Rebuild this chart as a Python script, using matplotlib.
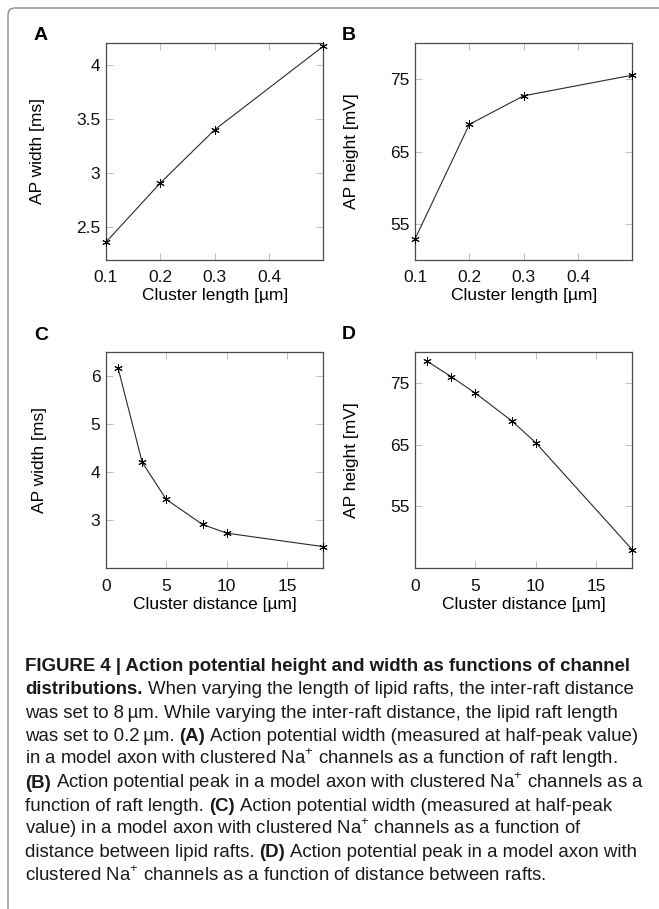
import matplotlib
matplotlib.use("Agg")
import matplotlib.pyplot as plt
from matplotlib.patches import FancyBboxPatch

# panel data
cluster_length = [0.1, 0.2, 0.3, 0.5]
ap_width_len = [2.365, 2.91, 3.40, 4.17]
ap_height_len = [52.9, 68.75, 72.7, 75.55]

cluster_dist = [1, 3, 5, 8, 10, 18]
ap_width_dist = [6.16, 4.20, 3.43, 2.91, 2.73, 2.45]
ap_height_dist = [78.45, 75.97, 73.3, 68.85, 65.3, 48.0]

len_ticks = [0.1, 0.2, 0.3, 0.4]
len_ticklabels = ["0.1", "0.2", "0.3", "0.4"]
dist_ticks = [0, 5, 10, 15]
dist_ticklabels = ["0", "5", "10", "15"]
width_len_ticks = [2.5, 3, 3.5, 4]
width_len_ticklabels = ["2.5", "3", "3.5", "4"]
height_ticks = [55, 65, 75]
height_ticklabels = ["55", "65", "75"]
width_dist_ticks = [3, 4, 5, 6]
width_dist_ticklabels = ["3", "4", "5", "6"]

caption_lines = [
    [("FIGURE 4 | Action potential height and width as functions of channel", True)],
    [("distributions.", True), ("When varying the length of lipid rafts, the inter-raft distance", False)],
    [("was set to 8\u2009\u00b5m. While varying the inter-raft distance, the lipid raft length", False)],
    [("was set to 0.2\u2009\u00b5m.", False), ("(A)", True),
     ("Action potential width (measured at half-peak value)", False)],
    [("in a model axon with clustered Na$^{+}$ channels as a function of raft length.", False)],
    [("(B)", True), ("Action potential peak in a model axon with clustered Na$^{+}$ channels as a", False)],
    [("function of raft length.", False), ("(C)", True),
     ("Action potential width (measured at half-peak", False)],
    [("value) in a model axon with clustered Na$^{+}$ channels as a function of", False)],
    [("distance between lipid rafts.", False), ("(D)", True),
     ("Action potential peak in a model axon with", False)],
    [("clustered Na$^{+}$ channels as a function of distance between rafts.", False)],
]

W, H = 659, 909
plt.rcParams["font.family"] = "Liberation Sans"
plt.rcParams["mathtext.fontset"] = "custom"
plt.rcParams["mathtext.rm"] = "Liberation Sans"
fig = plt.figure(figsize=(W / 100, H / 100), dpi=100)

# rounded frame (right and bottom run off the page, as in the source)
frame = FancyBboxPatch((0.08, -0.3), 7.0, 9.31, boxstyle="round,pad=0,rounding_size=0.07",
                       transform=fig.dpi_scale_trans, fill=False, edgecolor="#8a8a8a", lw=1.0)
fig.add_artist(frame)


def px_axes(left, top, right, bottom):
    return fig.add_axes([left / W, 1 - bottom / H, (right - left) / W, (bottom - top) / H])


def style(ax, x, y, xlim, ylim, xt, xtl, yt, ytl, xlabel, ylabel, ylab_x):
    ax.plot(x, y, color="#2a2a2a", lw=0.8, marker=(6, 2, 0), ms=6, mec="black", mew=0.7,
            clip_on=False, zorder=3)
    ax.set_xlim(*xlim)
    ax.set_ylim(*ylim)
    ax.set_xticks(xt, xtl)
    ax.set_yticks(yt, ytl)
    ax.tick_params(direction="in", length=5, width=0.7, color="#bdbdbd", top=True, right=True,
                   labelsize=12.5, labelcolor="#111111")
    ax.tick_params(axis="x", pad=7.5)
    ax.tick_params(axis="y", pad=4)
    for s in ax.spines.values():
        s.set_color("#4a4a4a")
        s.set_linewidth(0.9)
    ax.set_xlabel(xlabel, fontsize=12.5, va="center")
    ax.set_ylabel(ylabel, fontsize=12.5, va="center")
    ax.xaxis.set_label_coords(0.5, -0.165)
    ax.yaxis.set_label_coords(ylab_x, 0.5)


ax_a = px_axes(106, 43, 323.3, 260)
style(ax_a, cluster_length, ap_width_len, (0.1, 0.5), (2.2, 4.2), len_ticks, len_ticklabels,
      width_len_ticks, width_len_ticklabels, "Cluster length [\u00b5m]", "AP width [ms]", -0.313)

ax_b = px_axes(415, 43, 632.3, 260)
style(ax_b, cluster_length, ap_height_len, (0.1, 0.5), (50, 80), len_ticks, len_ticklabels,
      height_ticks, height_ticklabels, "Cluster length [\u00b5m]", "AP height [mV]", -0.291)

ax_c = px_axes(106, 351.7, 323.3, 568.3)
style(ax_c, cluster_dist, ap_width_dist, (0, 18), (2, 6.5), dist_ticks, dist_ticklabels,
      width_dist_ticks, width_dist_ticklabels, "Cluster distance [\u00b5m]", "AP width [ms]", -0.307)

ax_d = px_axes(415, 351.7, 632.3, 568.3)
style(ax_d, cluster_dist, ap_height_dist, (0, 18), (45, 80), dist_ticks, dist_ticklabels,
      height_ticks, height_ticklabels, "Cluster distance [\u00b5m]", "AP height [mV]", -0.291)

for letter, x, y in [("A", 34, 40), ("B", 342, 40), ("C", 34, 340), ("D", 342, 339)]:
    fig.text(x / W, 1 - y / H, letter, fontsize=14, fontweight="bold", va="baseline")

# caption, sized so the first line spans the same width as in the source
renderer = fig.canvas.get_renderer()
probe = fig.text(0, 0, caption_lines[0][0][0], fontweight="bold", fontsize=10)
cap_size = 10 * 606 / probe.get_window_extent(renderer).width
probe.remove()


def text_w(s, bold):
    t = fig.text(0, 0, s, fontweight="bold" if bold else "normal", fontsize=cap_size)
    w = t.get_window_extent(renderer).width
    t.remove()
    return w


space = text_w("x x", False) - text_w("xx", False)

x0, y0, step = 25, 671, 23.3
for i, segs in enumerate(caption_lines):
    x = x0
    for s, bold in segs:
        t = fig.text(x / W, 1 - (y0 + i * step) / H, s,
                     fontweight="bold" if bold else "normal", fontsize=cap_size,
                     va="baseline", color="#1a1a1a")
        x += t.get_window_extent(renderer).width + space

fig.savefig("out.png", dpi=100)
